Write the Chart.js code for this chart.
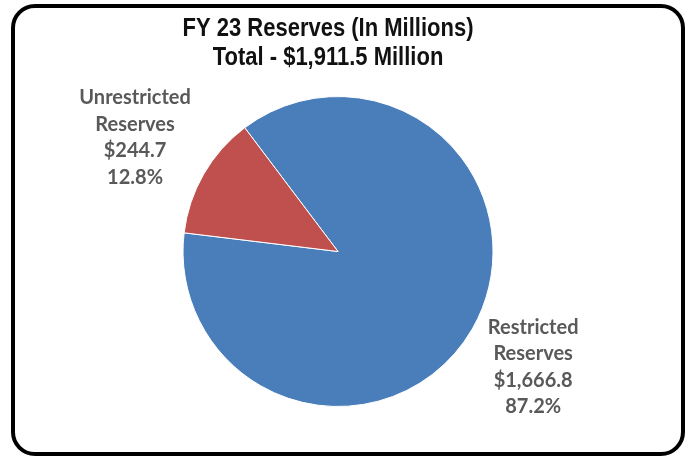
<!DOCTYPE html>
<html lang="en">
<head>
    <meta charset="UTF-8">
    <title>FY 23 Reserves</title>
    <script src="https://cdn.jsdelivr.net/npm/chart.js"></script>
    <style>
        body { margin: 0; background: #fff; }
        #wrap { position: relative; width: 688px; height: 458px; }
        #frame {
            position: absolute; left: 11px; top: 4px; width: 674px; height: 452px;
            box-sizing: border-box; border: 4px solid #000; border-radius: 24px;
        }
        #pie { position: absolute; left: 0; top: 0; }
    </style>
</head>
<body>
<div id="wrap">
    <div id="frame"></div>
    <canvas id="pie" width="688" height="458"></canvas>
</div>

<script>
    const titleLines = ['FY 23 Reserves (In Millions)', 'Total - $1,911.5 Million'];
    const categories = ['Restricted Reserves', 'Unrestricted Reserves'];
    const values = [1666.8, 244.7];
    const colors = ['#4a7ebb', '#c0504d'];

    const total = values.reduce((a, b) => a + b, 0);

    function money(v) {
        return '$' + v.toLocaleString('en-US', {minimumFractionDigits: 1, maximumFractionDigits: 1});
    }

    // title on top and outside-end labels for each slice
    const textPlugin = {
        id: 'textPlugin',
        afterDraw(chart) {
            const ctx = chart.ctx;
            ctx.save();
            ctx.fillStyle = '#111';
            ctx.textAlign = 'center';
            ctx.textBaseline = 'alphabetic';
            ctx.font = 'bold 25px "Liberation Sans", Arial, sans-serif';
            // no narrow face installed, so squeeze the title a bit
            ctx.save();
            ctx.translate(328, 0);
            ctx.scale(0.88, 1);
            titleLines.forEach((t, i) => ctx.fillText(t, 0, 36 + i * 28.6));
            ctx.restore();

            const lineH = 26.5;
            ctx.font = 'bold 20px Lato, "Open Sans", sans-serif';
            ctx.fillStyle = '#595959';
            ctx.textBaseline = 'middle';
            const meta = chart.getDatasetMeta(0);
            meta.data.forEach((arc, i) => {
                const lines = categories[i].split(' ');
                lines.push(money(values[i]));
                lines.push((values[i] / total * 100).toFixed(1) + '%');
                const w = Math.max(...lines.map(l => ctx.measureText(l).width));
                const h = lines.length * lineH;
                const mid = (arc.startAngle + arc.endAngle) / 2;
                const ux = Math.cos(mid), uy = Math.sin(mid);
                const d = arc.outerRadius + 4.5 + Math.abs(ux) * w / 2 + Math.abs(uy) * h / 2;
                const cx = arc.x + ux * d;
                const cy = arc.y + uy * d + 3;
                lines.forEach((l, k) => {
                    ctx.fillText(l, cx, cy - h / 2 + lineH * (k + 0.5));
                });
            });
            ctx.restore();
        }
    };

    new Chart(document.getElementById('pie').getContext('2d'), {
        type: 'pie',
        data: {
            labels: categories,
            datasets: [{
                data: values,
                backgroundColor: colors,
                borderColor: '#fff',
                borderWidth: 1
            }]
        },
        options: {
            responsive: false,
            animation: false,
            rotation: -37,
            layout: {padding: {top: 96, bottom: 51, left: 182, right: 194}},
            plugins: {
                legend: {display: false},
                tooltip: {enabled: false},
                title: {display: false}
            }
        },
        plugins: [textPlugin]
    });
</script>
</body>
</html>
